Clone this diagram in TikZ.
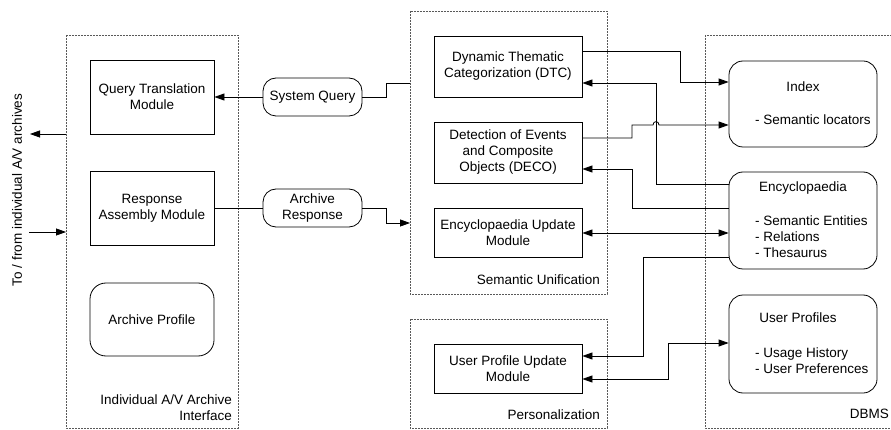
\documentclass[tikz,border=0pt]{standalone}
\usepackage{fontspec}
\setmainfont{Liberation Sans}
\usetikzlibrary{arrows.meta}
\tikzset{
  every node/.style={font=\fontsize{13.5}{16}\selectfont},
  module/.style={draw, line width=0.8pt, minimum width=148pt, align=center, inner sep=2pt},
  store/.style={draw, line width=0.8pt, rounded corners=14pt, minimum width=148pt},
  msg/.style={draw, line width=0.8pt, rounded corners=13pt, minimum width=99pt, minimum height=38pt, align=center, inner sep=1pt},
  group/.style={draw=black!65, line width=0.8pt, dash pattern=on 2pt off 1pt},
  grouplabel/.style={anchor=east, align=right, inner sep=0pt},
  itemlist/.style={anchor=west, align=left, inner sep=0pt},
  link/.style={line width=0.8pt},
  flow/.style={link, -{Triangle[length=10pt,width=7pt]}},
  dflow/.style={link, {Triangle[length=10pt,width=7pt]}-{Triangle[length=10pt,width=7pt]}},
}
\begin{document}
\begin{tikzpicture}[x=1pt, y=-1pt]
\useasboundingbox (0,0) rectangle (891,430);

% groups
\draw[group] (66,35) rectangle (238,428);
\draw[group] (410,11) rectangle (607,294);
\draw[group] (410,319) rectangle (607,428);
\draw[group] (705,35) rectangle (905,428);

\node[grouplabel] (ifaceL) at (232,407.5) {Individual A/V Archive\\Interface};
\node[grouplabel] (suL) at (600,280) {Semantic Unification};
\node[grouplabel] (persL) at (600,415) {Personalization};
\node[grouplabel] (dbmsL) at (889,414) {DBMS};
\node[rotate=90] (extL) at (17,190) {To / from individual A/V archives};

% archive interface
\node[module, minimum width=124pt, minimum height=74pt] (qtm) at (152,97) {Query Translation\\Module};
\node[module, minimum width=124pt, minimum height=74pt] (ram) at (152,208) {Response\\Assembly Module};
\node[store, rounded corners=16pt, minimum width=124pt, minimum height=73pt] (aprof) at (152,319.5) {Archive Profile};

\node[msg] (sysq) at (312.5,97) {System Query};
\node[msg] (aresp) at (312.5,208) {Archive\\Response};

% semantic unification, personalization
\node[module, minimum height=61pt] (dtc) at (508,66.5) {Dynamic Thematic\\Categorization (DTC)};
\node[module, minimum height=61pt] (deco) at (508,152.5) {Detection of Events\\and Composite\\Objects (DECO)};
\node[module, minimum height=49pt] (eum) at (508,232.5) {Encyclopaedia Update\\Module};
\node[module, minimum height=49pt] (upum) at (508,368.5) {User Profile Update\\Module};

% dbms
\node[store, minimum height=86pt] (index) at (803,104) {};
\node[store, minimum height=97pt] (ency) at (803,220.5) {};
\node[store, minimum height=98pt] (uprof) at (803,344) {};
\node (indexT) at (803,87) {Index};
\node[itemlist] (indexL) at (755,120) {- Semantic locators};
\node (encyT) at (803,188) {Encyclopaedia};
\node[itemlist] (encyL) at (755,237) {- Semantic Entities\\- Relations\\- Thesaurus};
\node (uprofT) at (798,318) {User Profiles};
\node[itemlist] (uprofL) at (755,360.5) {- Usage History\\- User Preferences};

\coordinate (ifaceOut) at (66,134);
\coordinate (extOut) at (30,134);
\coordinate (extIn) at (29,232);
\coordinate (ifaceIn) at (66,232);
\coordinate (suQuery) at (410,83);
\coordinate (suResp) at (410,223);

% connectors
\draw[flow] (ifaceOut) -- (extOut);
\draw[flow] (extIn) -- (ifaceIn);
\draw[flow] (sysq) -- (qtm);
\draw[link] (suQuery) -- (386,83) |- (sysq.east);
\draw[link] (ram) -- (aresp);
\draw[flow] (aresp.east) -| (386,223) -- (suResp);

\draw[flow] (dtc.east |- 0,51) -| (680,82) -- (index.west |- 0,82);
\draw[flow] (ency.west |- 0,184) -| (656,83) -- (dtc.east |- 0,83);
\draw[flow] (deco.east |- 0,138) -| (632,125) -- (653,125)
  .. controls (653,120.5) and (659,120.5) .. (659,125) -- (index.west |- 0,125);
\draw[flow] (ency.west |- 0,208) -| (632,169) -- (deco.east |- 0,169);
\draw[dflow] (eum.east |- 0,233) -- (ency.west |- 0,233);
\draw[flow] (ency.west |- 0,257) -| (643,356) -- (upum.east |- 0,356);
\draw[dflow] (upum.east |- 0,379) -| (668,343) -- (uprof.west |- 0,343);
\end{tikzpicture}
\end{document}
